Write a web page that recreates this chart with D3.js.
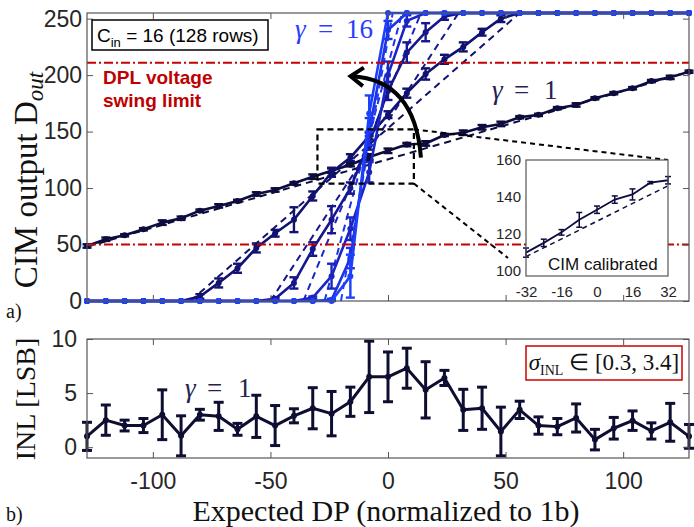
<!DOCTYPE html>
<html><head><meta charset="utf-8">
<script src="https://cdn.jsdelivr.net/npm/d3@7"></script>
<style>body{margin:0;background:#fff}svg{display:block}</style>
</head><body>
<svg id="chart" width="694" height="527"></svg>
<script>
// ---------------- DATA ----------------
const dpX = [-128,-120,-112,-104,-96,-88,-80,-72,-64,-56,-48,-40,-32,-24,-16,-8,0,8,16,24,32,40,48,56,64,72,80,88,96,104,112,120,128];

const outG1  = [48.7,54.7,58.2,63.5,69.4,73.3,80,84.2,88.6,94.8,98.3,104.3,110.1,115.4,120.7,127.5,133,138.5,139.5,147,149,153.8,156.8,162.7,164.8,170.7,173.6,179.5,184,188.4,194.7,198,203];
const errG1  = [1.5,1.5,1,1,2,1.5,1,1.5,1,1.5,1.5,1,2,2,1.5,2.5,2,1.5,2,1,2,2,2,1,1,1,1.5,1,1,1,1,1.5,1];
const outG2  = [0,0,0,0,0,0,4,16,29,47,60,72,93,114,127,146,165,184,201,214,225,238,250,255,255,255,255,255,255,255,255,255,255];
const errG2  = [0,0,0,0,0,0,2,4,4,4,3,11,4,4,3,3,3,4,5,4,4,3,3,0,0,0,0,0,0,0,0,0,0];
const outG4  = [0,0,0,0,0,0,0,0,0,0,2,16,46,72,100,140,186,220,238,252,255,255,255,255,255,255,255,255,255,255,255,255,255];
const errG4  = [0,0,0,0,0,0,0,0,0,0,1,5,6,12,5,6,8,9,8,3,0,0,0,0,0,0,0,0,0,0,0,0,0];
const outG8  = [0,0,0,0,0,0,0,0,0,0,0,0,3,22,64,114,200,248,255,255,255,255,255,255,255,255,255,255,255,255,255,255,255];
const errG8  = [0,0,0,0,0,0,0,0,0,0,0,0,1,11,10,9,12,5,0,0,0,0,0,0,0,0,0,0,0,0,0,0,0];
const outG12 = [0,0,0,0,0,0,0,0,0,0,0,0,0,1,38,150,240,255,255,255,255,255,255,255,255,255,255,255,255,255,255,255,255];
const errG12 = [0,0,0,0,0,0,0,0,0,0,0,0,0,1,9,12,8,0,0,0,0,0,0,0,0,0,0,0,0,0,0,0,0];
const outG16 = [0,0,0,0,0,0,0,0,0,0,0,0,0,0,22,166,255,255,255,255,255,255,255,255,255,255,255,255,255,255,255,255,255];
const errG16 = [0,0,0,0,0,0,0,0,0,0,0,0,0,0,19,16,0,0,0,0,0,0,0,0,0,0,0,0,0,0,0,0,0];

// ideal (dashed) transfer lines
const idealG1 = [48, 203];                 // values at x = -128 and x = 128
const idealRampStart = [-84, -50, -36, -27, -20]; // x where ideal leaves 0
const idealRampEnd   = [56, 30, 14, 6, 2];        // x where ideal reaches 255

const dplLimits = [211, 50];

// inset (calibrated, gamma = 1)
const insetX = [-32,-24,-16,-8,0,8,16,24,32];
const insetY = [109.7,115,120.7,127.5,133,138.5,141.3,147.7,149];
const insetErr = [2.5,2,1.5,4,2,2,3,0.6,2];
const insetIdeal = [107.5, 146];

// INL (panel b)
const inlVal = [1.0,2.5,2.0,2.0,3.0,1.05,3.0,2.85,1.65,2.85,2.0,2.9,3.6,3.1,4.2,6.5,6.5,7.3,5.3,6.4,3.45,3.6,1.45,3.45,2.0,1.9,2.7,0.7,1.75,2.45,1.5,2.3,1.0];
const inlErr = [1.3,1.4,0.5,0.65,2.3,1.85,0.5,1.3,0.55,1.95,1.85,0.65,1.9,2.05,1.35,3.3,2.3,1.85,2.6,0.7,1.9,1.95,2.25,0.8,0.8,0.75,1.3,0.95,1.0,0.9,0.75,1.75,1.1];

// ticks
const xTicks = [-100,-50,0,50,100];
const yTicksA = [0,50,100,150,200,250];
const yTicksB = [0,5,10];
const xTicksInset = [-32,-16,0,16,32];
const yTicksInset = [100,120,140,160];

// ---------------- CHART ----------------
const svg = d3.select("#chart");
const SANS = "'Liberation Sans', Arial, sans-serif";
const SERIF = "'Liberation Serif', 'Times New Roman', serif";
const AX = "#262626";

const xA = d3.scaleLinear().domain([-128,128]).range([87,689]);
const yA = d3.scaleLinear().domain([0,255]).range([301,13]);
const yB = d3.scaleLinear().domain([-1,10]).range([458,339]);
const xI = d3.scaleLinear().domain([-32,32]).range([526,668]);
const yI = d3.scaleLinear().domain([97,160]).range([276,160]);

const series = [
  {v: outG1,  e: errG1,  c: "#0c0c3e"},
  {v: outG2,  e: errG2,  c: "#111170"},
  {v: outG4,  e: errG4,  c: "#16168f"},
  {v: outG8,  e: errG8,  c: "#1a26c4"},
  {v: outG12, e: errG12, c: "#1b34e4"},
  {v: outG16, e: errG16, c: "#1d40ff"}
];

function frame(g, x, y){
  const [x0,x1] = x.range(), [y0,y1] = y.range();
  g.append("rect").attr("x",x0).attr("y",Math.min(y0,y1)).attr("width",x1-x0).attr("height",Math.abs(y0-y1))
    .attr("fill","none").attr("stroke","#555").attr("stroke-width",1.2);
}
function styleAxis(sel, fs){
  sel.select(".domain").remove();
  sel.selectAll(".tick line").attr("stroke","#555");
  sel.selectAll(".tick text").attr("fill",AX).style("font-family",SANS).style("font-size",fs+"px");
}
function errorBars(g, xs, ys, es, x, y, color, cap, w){
  xs.forEach((xv,i)=>{
    const e = es[i]; if(!e) return;
    const px = x(xv);
    g.append("line").attr("x1",px).attr("x2",px).attr("y1",y(ys[i]-e)).attr("y2",y(ys[i]+e)).attr("stroke",color).attr("stroke-width",w);
    [ys[i]-e, ys[i]+e].forEach(v=>g.append("line").attr("x1",px-cap).attr("x2",px+cap).attr("y1",y(v)).attr("y2",y(v)).attr("stroke",color).attr("stroke-width",w));
  });
}

// ---- Panel a ----
const gA = svg.append("g");
gA.append("rect").attr("x",87).attr("y",13).attr("width",602).attr("height",288).attr("fill","#fff");

// ideal dashed lines
gA.append("line").attr("x1",xA(-128)).attr("y1",yA(idealG1[0])).attr("x2",xA(128)).attr("y2",yA(idealG1[1]))
  .attr("stroke",series[0].c).attr("stroke-width",2).attr("stroke-dasharray","7,5");
idealRampStart.forEach((s,i)=>{
  gA.append("line").attr("x1",xA(s)).attr("y1",yA(0)).attr("x2",xA(idealRampEnd[i])).attr("y2",yA(255))
    .attr("stroke",series[i+1].c).attr("stroke-width",2).attr("stroke-dasharray","7,5");
});

const lineA = d3.line().x((d,i)=>xA(dpX[i])).y(d=>yA(d));
series.forEach(s=>{
  gA.append("path").attr("d",lineA(s.v)).attr("fill","none").attr("stroke",s.c).attr("stroke-width",2.6).attr("stroke-linejoin","round");
  errorBars(gA, dpX, s.v, s.e, xA, yA, s.c, 4.5, 2.4);
  gA.selectAll(null).data(s.v).enter().append("circle")
    .attr("cx",(d,i)=>xA(dpX[i])).attr("cy",d=>yA(d)).attr("r",3).attr("fill",s.c);
});

// DPL limit lines
dplLimits.forEach(v=>{
  gA.append("line").attr("x1",xA(-128)).attr("x2",xA(128)).attr("y1",yA(v)).attr("y2",yA(v))
    .attr("stroke","#c80000").attr("stroke-width",2).attr("stroke-dasharray","9,3,2,3");
});

// zoom rectangle + connector lines
const zr = {x0:-30, x1:11, y0:104, y1:152};
gA.append("rect").attr("x",xA(zr.x0)).attr("y",yA(zr.y1)).attr("width",xA(zr.x1)-xA(zr.x0)).attr("height",yA(zr.y0)-yA(zr.y1))
  .attr("fill","none").attr("stroke","#000").attr("stroke-width",2.2).attr("stroke-dasharray","6,4");
gA.append("line").attr("x1",xA(zr.x1)).attr("y1",yA(zr.y1)).attr("x2",xI(32)).attr("y2",yI(160))
  .attr("stroke","#000").attr("stroke-width",2).attr("stroke-dasharray","5,4");
gA.append("line").attr("x1",xA(zr.x1)).attr("y1",yA(zr.y0)).attr("x2",508).attr("y2",258)
  .attr("stroke","#000").attr("stroke-width",2).attr("stroke-dasharray","5,4");

// curved arrow
const aS = [xA(14), yA(127)], aC = [xA(11.5), yA(196)], aE = [xA(-15.5), yA(199)];
gA.append("path").attr("d",`M${aS[0]},${aS[1]} Q${aC[0]},${aC[1]} ${aE[0]},${aE[1]}`)
  .attr("fill","none").attr("stroke","#000").attr("stroke-width",4);
{
  const dx = aE[0]-aC[0], dy = aE[1]-aC[1], L = Math.hypot(dx,dy), ux = dx/L, uy = dy/L;
  const ang = 38*Math.PI/180, len = 15;
  const p1 = [aE[0]-len*(ux*Math.cos(ang)-uy*Math.sin(ang)), aE[1]-len*(uy*Math.cos(ang)+ux*Math.sin(ang))];
  const p2 = [aE[0]-len*(ux*Math.cos(-ang)-uy*Math.sin(-ang)), aE[1]-len*(uy*Math.cos(-ang)+ux*Math.sin(-ang))];
  gA.append("path").attr("d",`M${p1[0]},${p1[1]} L${aE[0]-1},${aE[1]} L${p2[0]},${p2[1]}`)
    .attr("fill","none").attr("stroke","#000").attr("stroke-width",4).attr("stroke-linejoin","miter");
}

// axes panel a
styleAxis(gA.append("g").attr("transform","translate(87,0)")
  .call(d3.axisLeft(yA).tickValues(yTicksA).tickSizeInner(-6).tickSizeOuter(0).tickPadding(5).tickFormat(d=>String(d))),23);
styleAxis(gA.append("g").attr("transform","translate(689,0)")
  .call(d3.axisRight(yA).tickValues(yTicksA).tickSizeInner(-6).tickSizeOuter(0).tickFormat("")),23);
styleAxis(gA.append("g").attr("transform","translate(0,301)")
  .call(d3.axisBottom(xA).tickValues(xTicks).tickSizeInner(-6).tickSizeOuter(0).tickFormat("")),23);
styleAxis(gA.append("g").attr("transform","translate(0,13)")
  .call(d3.axisTop(xA).tickValues(xTicks).tickSizeInner(-6).tickSizeOuter(0).tickFormat("")),23);
frame(gA, xA, yA);

// legend box
gA.append("rect").attr("x",92).attr("y",20).attr("width",176).attr("height",30).attr("fill","#fff").attr("stroke","#000").attr("stroke-width",1.5);
{
  const t = gA.append("text").attr("x",97).attr("y",42).style("font-family",SANS).style("font-size","19px").attr("fill","#000");
  t.append("tspan").text("C");
  t.append("tspan").attr("dy",5).style("font-size","13px").text("in");
  t.append("tspan").attr("dy",-5).text(" = 16 (128 rows)");
}
// DPL text
gA.append("text").attr("x",103).attr("y",84).style("font-family",SANS).style("font-size","19px").style("font-weight","bold").attr("fill","#c00000").text("DPL voltage");
gA.append("text").attr("x",103).attr("y",107).style("font-family",SANS).style("font-size","19px").style("font-weight","bold").attr("fill","#c00000").text("swing limit");

// gamma labels
function gammaLabel(g, xs, base, num, color){
  const st = (t)=>t.style("font-family",SERIF).style("font-size","27px").attr("fill",color);
  st(g.append("text").attr("x",xs[0]).attr("y",base).style("font-style","italic").text("γ"));
  st(g.append("text").attr("x",xs[1]).attr("y",base).text("="));
  st(g.append("text").attr("x",xs[2]).attr("y",base).text(num));
}
gammaLabel(gA,[295,318,346],38,"16","#2a3cff");
gammaLabel(gA,[492,514,544],99,"1","#23234f");

// ---- inset ----
const gI = svg.append("g");
gI.append("rect").attr("x",526).attr("y",160).attr("width",142).attr("height",116).attr("fill","#fff");
gI.append("line").attr("x1",xI(-32)).attr("y1",yI(insetIdeal[0])).attr("x2",xI(32)).attr("y2",yI(insetIdeal[1]))
  .attr("stroke","#0c0c3e").attr("stroke-width",1.5).attr("stroke-dasharray","5,4");
gI.append("path").attr("d",d3.line().x((d,i)=>xI(insetX[i])).y(d=>yI(d))(insetY))
  .attr("fill","none").attr("stroke","#0c0c3e").attr("stroke-width",1.8);
errorBars(gI, insetX, insetY, insetErr, xI, yI, "#0c0c3e", 3, 1.5);
gI.append("text").attr("x",548).attr("y",270).style("font-family",SANS).style("font-size","17px").attr("fill","#111").text("CIM calibrated");
styleAxis(gI.append("g").attr("transform","translate(526,0)")
  .call(d3.axisLeft(yI).tickValues(yTicksInset).tickSizeInner(0).tickSizeOuter(0).tickPadding(5).tickFormat(d=>String(d))),15);
styleAxis(gI.append("g").attr("transform","translate(0,276)")
  .call(d3.axisBottom(xI).tickValues(xTicksInset).tickSizeInner(0).tickSizeOuter(0).tickPadding(10).tickFormat(d=>String(d))),15);
frame(gI, xI, yI);

// ---- Panel b ----
const gB = svg.append("g");
gammaLabel(gB,[185,207,238],397,"1","#23234f");
gB.append("path").attr("d",d3.line().x((d,i)=>xA(dpX[i])).y(d=>yB(d))(inlVal))
  .attr("fill","none").attr("stroke","#0e0e33").attr("stroke-width",3).attr("stroke-linejoin","round");
errorBars(gB, dpX, inlVal, inlErr, xA, yB, "#0e0e33", 5, 3);
gB.selectAll(null).data(inlVal).enter().append("circle")
  .attr("cx",(d,i)=>xA(dpX[i])).attr("cy",d=>yB(d)).attr("r",3).attr("fill","#0e0e33");

styleAxis(gB.append("g").attr("transform","translate(87,0)")
  .call(d3.axisLeft(yB).tickValues(yTicksB).tickSizeInner(-6).tickSizeOuter(0).tickPadding(10).tickFormat(d=>String(d))),23);
styleAxis(gB.append("g").attr("transform","translate(689,0)")
  .call(d3.axisRight(yB).tickValues(yTicksB).tickSizeInner(-6).tickSizeOuter(0).tickFormat("")),23);
styleAxis(gB.append("g").attr("transform","translate(0,458)")
  .call(d3.axisBottom(xA).tickValues(xTicks).tickSizeInner(-6).tickSizeOuter(0).tickPadding(15).tickFormat(d=>String(d))),23);
styleAxis(gB.append("g").attr("transform","translate(0,339)")
  .call(d3.axisTop(xA).tickValues(xTicks).tickSizeInner(-6).tickSizeOuter(0).tickFormat("")),23);
frame(gB, xA, yB);

// sigma box
gB.append("rect").attr("x",526).attr("y",346).attr("width",156).attr("height",34).attr("fill","#fff").attr("stroke","#cc0000").attr("stroke-width",1.5);
{
  const t = gB.append("text").attr("x",604).attr("y",370).attr("text-anchor","middle").style("font-family",SERIF).style("font-size","23px").attr("fill","#111");
  t.append("tspan").style("font-style","italic").text("σ");
  t.append("tspan").attr("dy",5).style("font-size","14px").text("INL");
  t.append("tspan").attr("dy",-5).text(" ∈ [0.3, 3.4]");
}

// ---- axis titles ----
{
  const t = svg.append("text").attr("transform","translate(37,180) rotate(-90)").attr("text-anchor","middle")
    .style("font-family",SERIF).style("font-size","33px").attr("fill","#111");
  t.append("tspan").text("CIM output D");
  t.append("tspan").attr("dy",6).style("font-style","italic").style("font-size","23px").text("out");
}
svg.append("text").attr("transform","translate(35,399) rotate(-90)").attr("text-anchor","middle")
  .style("font-family",SERIF).style("font-size","28px").attr("fill","#111").text("INL [LSB]");
svg.append("text").attr("x",386).attr("y",521).attr("text-anchor","middle")
  .style("font-family",SERIF).style("font-size","30px").attr("fill","#111").text("Expected DP (normalized to 1b)");
svg.append("text").attr("x",6).attr("y",318).style("font-family",SERIF).style("font-size","20px").attr("fill","#111").text("a)");
svg.append("text").attr("x",6).attr("y",521).style("font-family",SERIF).style("font-size","20px").attr("fill","#111").text("b)");
</script>
</body></html>
